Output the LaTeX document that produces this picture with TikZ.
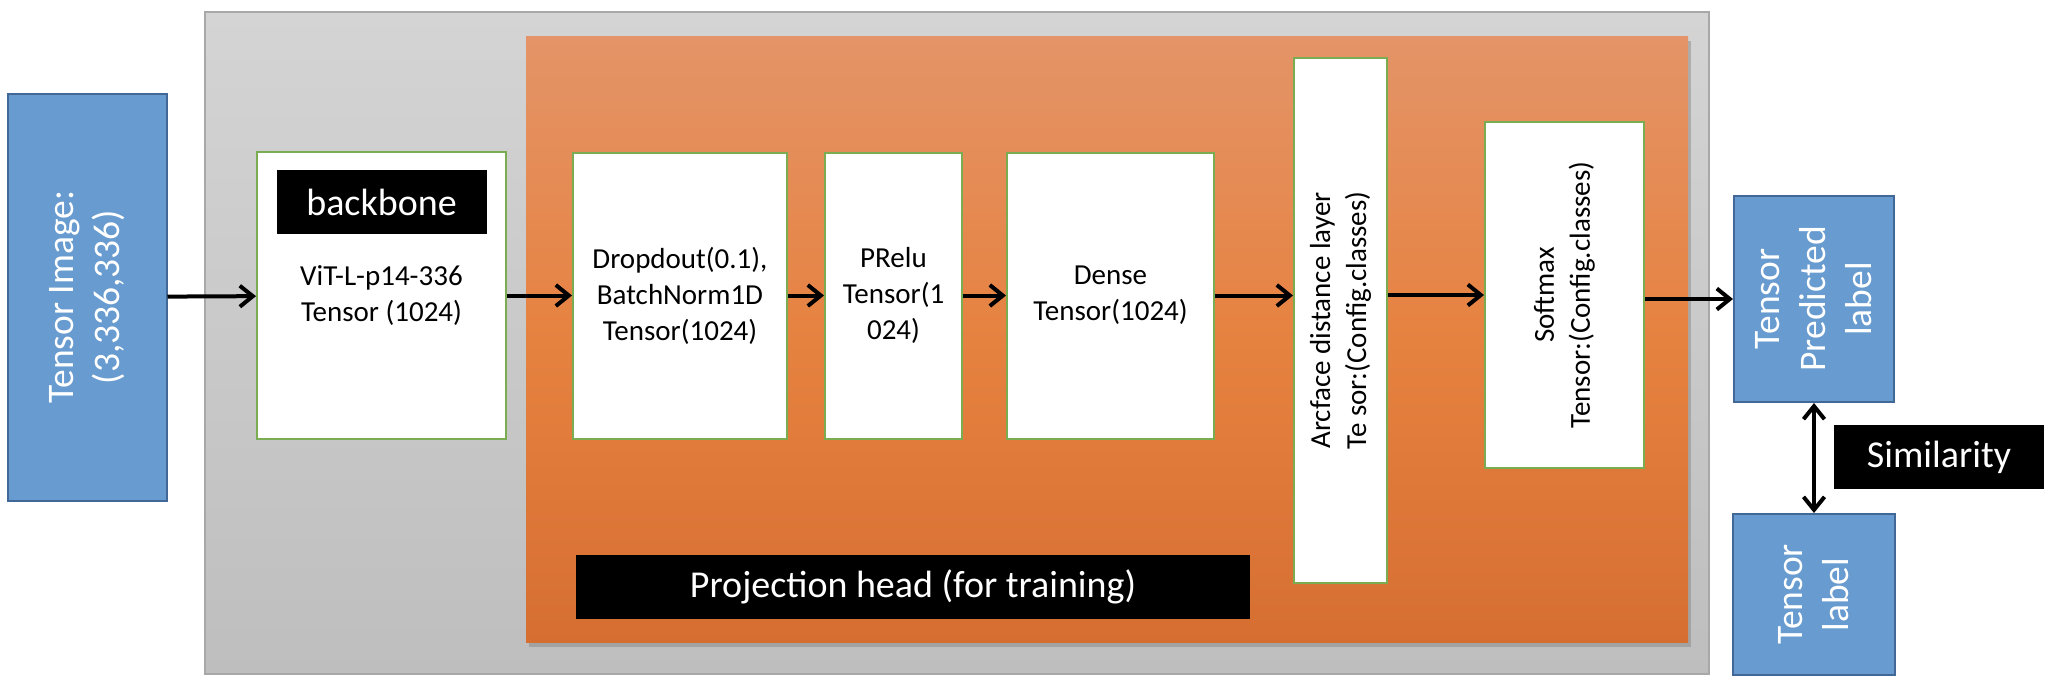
\documentclass[tikz,border=0pt]{standalone}
\usepackage{fontspec}
\setmainfont{Carlito}
\usepackage{tikz}
\usetikzlibrary{positioning}
\usetikzlibrary{shadows}
\usetikzlibrary{arrows.meta}

\definecolor{frameTop}{RGB}{212,212,212}
\definecolor{frameBot}{RGB}{190,190,190}
\definecolor{frameLine}{RGB}{168,168,168}
\definecolor{headTop}{RGB}{228,148,104}
\definecolor{headMid}{RGB}{230,130,64}
\definecolor{headBot}{RGB}{214,110,50}
\definecolor{layerGreen}{RGB}{122,172,82}
\definecolor{dataBlue}{RGB}{104,155,207}
\definecolor{dataLine}{RGB}{66,104,152}

\begin{document}
\begin{tikzpicture}[x=0.5pt,y=-0.5pt,>={Straight Barb[length=6.5pt,width=10.5pt]},
  layer node/.style={draw=layerGreen,line width=1pt,fill=white,inner sep=0pt,align=center,font=\fontsize{14.5}{18}\selectfont},
  data node/.style={draw=dataLine,line width=1pt,fill=dataBlue,inner sep=0pt},
  data text/.style={text=white,align=center,inner sep=0pt,font=\fontsize{18.75}{23}\selectfont},
  layer text/.style={align=center,inner sep=0pt,font=\fontsize{14.5}{18}\selectfont},
  tag node/.style={fill=black,text=white,inner sep=0pt,font=\fontsize{19}{23}\selectfont},
  link/.style={->,line width=2pt}]

  \useasboundingbox (0,0) rectangle (2050,698);

  % containers
  \node[draw=frameLine,line width=0.8pt,top color=frameTop,bottom color=frameBot,inner sep=0pt,
        minimum width=752pt,minimum height=331pt] (frame) at (957,343) {};
  \node[top color=headTop,bottom color=headBot,middle color=headMid,inner sep=0pt,
        drop shadow={shadow xshift=1.5pt,shadow yshift=-2.5pt,opacity=0.45},
        minimum width=581pt,minimum height=303pt] (head) at (1107,339) {};

  % input
  \node[data node,minimum width=79.5pt,minimum height=203.5pt] (img) at (87,297) {};
  \node[data text,rotate=90] (img-txt) at (img) {Tensor Image:\\(3,336,336)};

  % backbone
  \node[layer node,minimum width=124.5pt,minimum height=143.5pt] (backbone) at (381.5,295.5) {ViT-L-p14-336\\Tensor (1024)};
  \node[tag node,minimum width=105pt,minimum height=32pt,below=9.5pt of backbone.north] (bb-tag) {backbone};

  % projection head
  \node[layer node,minimum width=107pt,minimum height=143pt,right=32.5pt of backbone] (dropout) {Dropdout(0.1),\\BatchNorm1D\\Tensor(1024)};
  \node[layer node,minimum width=68.5pt,minimum height=143pt,right=18pt of dropout] (prelu) {PRelu\\Tensor(1\\024)};
  \node[layer node,minimum width=103.5pt,minimum height=143pt,right=21.5pt of prelu] (dense) {Dense\\Tensor(1024)};
  \node[layer node,minimum width=46.5pt,minimum height=262.5pt] (arcface) at (1340.5,320.5) {};
  \node[layer text,rotate=90] (arcface-txt) at (arcface) {Arcface distance layer\\Te sor:(Config.classes)};
  \node[layer node,minimum width=79.5pt,minimum height=173pt] (softmax) at (1564.5,295) {};
  \node[layer text,rotate=90] (softmax-txt) at (softmax) {Softmax\\Tensor:(Config.classes)};
  \node[tag node,minimum width=337pt,minimum height=32pt] (head-tag) at (913,587) {Projection head (for training)};

  % outputs
  \node[data node,minimum width=80pt,minimum height=103pt] (pred) at (1814,299) {};
  \node[data text,rotate=90] (pred-txt) at (pred) {Tensor\\Predicted\\label};
  \node[data node,minimum width=81pt,minimum height=80.5pt,below=55pt of pred] (truth) {};
  \node[data text,rotate=90] (truth-txt) at (truth) {Tensor\\label};
  \node[tag node,minimum width=105pt,minimum height=32pt] (sim-tag) at (1939,457) {Similarity};

  \draw[link] (img) -- (backbone);
  \draw[link] (backbone) -- (dropout);
  \draw[link] (dropout) -- (prelu);
  \draw[link] (prelu) -- (dense);
  \draw[link] (dense.east) -- (dense.east -| arcface.west);
  \draw[link] (softmax.west -| arcface.east) -- (softmax.west);
  \draw[link] (softmax.east |- pred.west) -- (pred.west);
  \draw[link,<->] (pred) -- (truth);

\end{tikzpicture}
\end{document}
